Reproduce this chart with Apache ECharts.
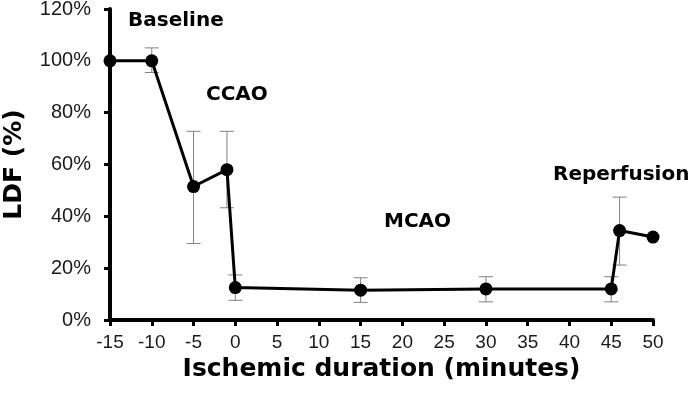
<!DOCTYPE html>
<html>
<head>
<meta charset="utf-8">
<script src="https://cdn.jsdelivr.net/npm/echarts@6/dist/echarts.min.js"></script>
<style>
html,body{margin:0;padding:0;background:#fff;}
#chart{width:689px;height:403px;}
</style>
</head>
<body>
<div id="chart"></div>
<script>
// Data
const minutes = [-15, -10, -5, -1, 0, 15, 30, 45, 46, 50];
const ldf = [100, 100, 51.5, 58, 12.5, 11.5, 12, 12, 34.5, 32];
const errLow = [null, 95.5, 29.5, 43.3, 7.6, 6.8, 7.0, 7.0, 21.2, null];
const errHigh = [null, 105, 72.8, 72.8, 17.4, 16.3, 16.7, 16.7, 47.4, null];
const phaseLabels = ['Baseline', 'CCAO', 'MCAO', 'Reperfusion'];
const xAxisTitle = 'Ischemic duration (minutes)';
const yAxisTitle = 'LDF (%)';

const lineData = minutes.map((m, i) => [m, ldf[i]]);
const errData = minutes.map((m, i) => [m, errLow[i], errHigh[i]]).filter(d => d[1] !== null);

const chart = echarts.init(document.getElementById('chart'));
const titleFont = 'DejaVu Sans';
const tickFont = 'Liberation Sans';
const phasePos = [
  {left: 128, top: 11},
  {left: 206, top: 85},
  {left: 384, top: 212},
  {left: 553, top: 165}
];
chart.setOption({
  animation: false,
  backgroundColor: '#fff',
  grid: {left: 110, right: 36, top: 9, bottom: 83, containLabel: false, outerBoundsMode: 'none'},
  xAxis: {
    type: 'value', min: -15, max: 50, interval: 5,
    name: xAxisTitle, nameLocation: 'middle', nameGap: 29,
    nameTextStyle: {fontFamily: titleFont, fontWeight: 'bold', fontSize: 25, color: '#000'},
    axisLine: {onZero: false, lineStyle: {color: '#000', width: 4}},
    axisTick: {show: true, length: 6, lineStyle: {color: '#000', width: 3}},
    axisLabel: {fontFamily: tickFont, fontSize: 19, color: '#1a1a1a', margin: 13},
    splitLine: {show: false}
  },
  yAxis: {
    type: 'value', min: 0, max: 120, interval: 20,
    name: yAxisTitle, nameLocation: 'middle', nameGap: 83,
    nameTextStyle: {fontFamily: titleFont, fontWeight: 'bold', fontSize: 25, color: '#000'},
    axisLine: {show: true, onZero: false, lineStyle: {color: '#000', width: 4}},
    axisTick: {show: true, length: 6, lineStyle: {color: '#000', width: 3}},
    axisLabel: {fontFamily: tickFont, fontSize: 20, color: '#1a1a1a', margin: 19, formatter: v => v + '%'},
    splitLine: {show: false}
  },
  series: [
    {
      type: 'custom', z: 1,
      data: errData,
      renderItem: function (params, api) {
        const x = api.value(0);
        const lo = api.coord([x, api.value(1)]);
        const hi = api.coord([x, api.value(2)]);
        const w = 7;
        const style = {stroke: '#808080', lineWidth: 1};
        return {
          type: 'group',
          children: [
            {type: 'line', shape: {x1: hi[0], y1: hi[1], x2: lo[0], y2: lo[1]}, style: style},
            {type: 'line', shape: {x1: hi[0] - w, y1: hi[1], x2: hi[0] + w, y2: hi[1]}, style: style},
            {type: 'line', shape: {x1: lo[0] - w, y1: lo[1], x2: lo[0] + w, y2: lo[1]}, style: style}
          ]
        };
      }
    },
    {
      type: 'line', z: 5,
      data: lineData,
      symbol: 'circle', symbolSize: 13,
      itemStyle: {color: '#000'},
      lineStyle: {color: '#000', width: 3}
    }
  ],
  graphic: phaseLabels.map((t, i) => ({
    type: 'text', left: phasePos[i].left, top: phasePos[i].top,
    style: {text: t, font: 'bold 20px "DejaVu Sans"', fill: '#000'}
  }))
});
</script>
</body>
</html>
